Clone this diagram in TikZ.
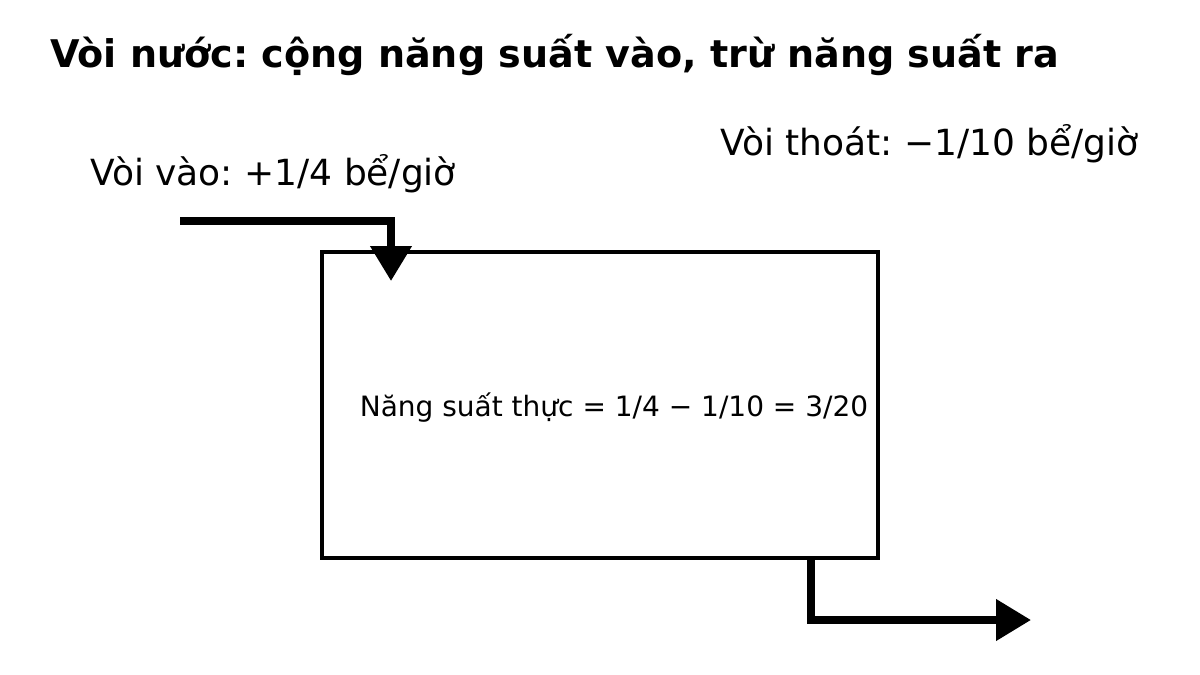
\documentclass[tikz,border=0pt]{standalone}
\usepackage{fontspec}
\setmainfont{DejaVu Sans}
\usetikzlibrary{arrows.meta, positioning}
\frenchspacing

\tikzset{
  pipe/.style={line width=7.5pt, -{Triangle[length=35pt, width=40pt]}},
  tankbox/.style={draw, line width=4pt, minimum width=556pt, minimum height=306pt, inner sep=0pt},
  tapnote/.style={font=\fontsize{36}{38}\selectfont, anchor=base west, inner sep=0pt}
}

\begin{document}
\begin{tikzpicture}[x=1pt, y=-1pt]
\useasboundingbox (0,0) rectangle (1200,675);

\node[font=\bfseries\fontsize{38.1}{42}\selectfont, anchor=base west, inner sep=0pt] (title) at (50,67) {Vòi nước: cộng năng suất vào, trừ năng suất ra};

\node[tapnote] (inlabel) at (90,185) {Vòi vào: +1/4 bể/giờ};
\node[tapnote] (outlabel) at (720,155) {Vòi thoát: −1/10 bể/giờ};

\node[tankbox] (tank) at (600,405) {};
\node[font=\fontsize{28}{32}\selectfont, anchor=base, inner sep=0pt] (rate) at (614,416) {Năng suất thực = 1/4 − 1/10 = 3/20};

% inlet and outlet
\coordinate (inA) at (180,221);
\coordinate (inB) at (391,281);
\draw[pipe] (inA) -| (inB);

\coordinate (outA) at (811,558);
\coordinate (outB) at (1031,620);
\draw[pipe] (outA) |- (outB);

\end{tikzpicture}
\end{document}
